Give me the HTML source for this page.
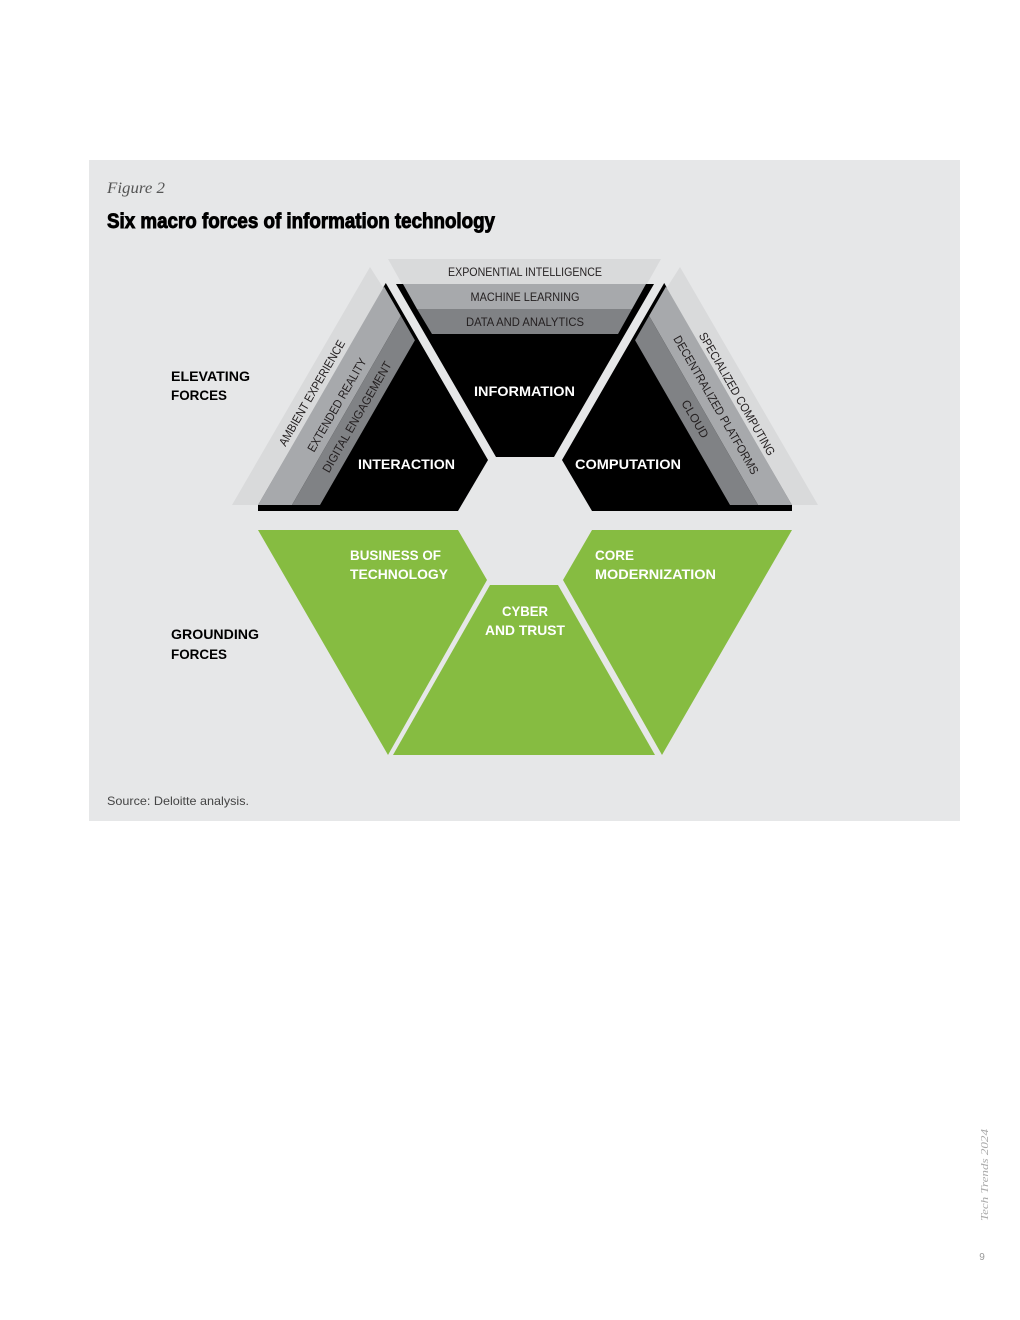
<!DOCTYPE html>
<html><head><meta charset="utf-8"><style>
html,body{margin:0;padding:0;background:#fff;}
svg{display:block;}
</style></head><body>
<svg width="1020" height="1320" viewBox="0 0 1020 1320" xmlns="http://www.w3.org/2000/svg">
<rect x="0" y="0" width="1020" height="1320" fill="#fff"/>
<rect x="89" y="160" width="871" height="661" fill="#e6e7e8"/>
<text x="107" y="193" font-family="Liberation Serif, serif" font-style="italic" font-size="16" fill="#555" textLength="58" lengthAdjust="spacingAndGlyphs">Figure 2</text>
<text x="107" y="228" font-family="Liberation Sans, sans-serif" font-weight="bold" font-size="21" fill="#000" stroke="#000" stroke-width="0.9" textLength="388" lengthAdjust="spacingAndGlyphs">Six macro forces of information technology</text>

<!-- INFORMATION -->
<polygon points="388,259 661,259 647,284 402,284" fill="#d9dadb"/>
<polygon points="396,284 654,284 554,457 496,457" fill="#000"/>
<polygon points="403,284 646,284 632,309 417,309" fill="#a7a9ac"/>
<polygon points="417,309 632,309 618,334 432,334" fill="#808285"/>

<!-- INTERACTION -->
<polygon points="385.8,283 488,460 458,511 258,511 258,505" fill="#000"/>
<polygon points="370,267 232,505 258,505 384,289" fill="#d9dadb"/>
<polygon points="384,286.5 258,505 292,505 400.9,315.9" fill="#a7a9ac"/>
<polygon points="400.9,315.9 292,505 320,505 414.9,340.2" fill="#808285"/>

<!-- COMPUTATION -->
<polygon points="664.2,283 562,460 592,511 792,511 792,505" fill="#000"/>
<polygon points="680,267 818,505 792,505 666,289" fill="#d9dadb"/>
<polygon points="666,286.5 792,505 758,505 649.1,315.9" fill="#a7a9ac"/>
<polygon points="649.1,315.9 758,505 730,505 635.1,340.2" fill="#808285"/>

<!-- GREEN -->
<polygon points="258,530 458,530 487,580 388,755" fill="#86bc41"/>
<polygon points="490,585 558,585 655,755 393,755" fill="#86bc41"/>
<polygon points="792,530 592,530 563,580 662,755" fill="#86bc41"/>

<g font-family="Liberation Sans, sans-serif" font-size="12" fill="#231f20" text-anchor="middle">
<text x="525" y="276" textLength="154" lengthAdjust="spacingAndGlyphs">EXPONENTIAL INTELLIGENCE</text>
<text x="525" y="301" textLength="109" lengthAdjust="spacingAndGlyphs">MACHINE LEARNING</text>
<text x="525" y="326" textLength="118" lengthAdjust="spacingAndGlyphs">DATA AND ANALYTICS</text>
<text transform="translate(312,393) rotate(-60)" x="0" y="4" textLength="120" lengthAdjust="spacingAndGlyphs">AMBIENT EXPERIENCE</text>
<text transform="translate(337,405) rotate(-60)" x="0" y="4" textLength="106" lengthAdjust="spacingAndGlyphs">EXTENDED REALITY</text>
<text transform="translate(357,417) rotate(-60)" x="0" y="4" textLength="126" lengthAdjust="spacingAndGlyphs">DIGITAL ENGAGEMENT</text>
<text transform="translate(737,394) rotate(60)" x="0" y="4" textLength="140" lengthAdjust="spacingAndGlyphs">SPECIALIZED COMPUTING</text>
<text transform="translate(716,405) rotate(60)" x="0" y="4" textLength="158" lengthAdjust="spacingAndGlyphs">DECENTRALIZED PLATFORMS</text>
<text transform="translate(695,419) rotate(60)" x="0" y="4" textLength="42" lengthAdjust="spacingAndGlyphs">CLOUD</text>
</g>

<g font-family="Liberation Sans, sans-serif" font-weight="bold" font-size="14" fill="#fff">
<text x="474" y="396" textLength="101" lengthAdjust="spacingAndGlyphs">INFORMATION</text>
<text x="358" y="469" textLength="97" lengthAdjust="spacingAndGlyphs">INTERACTION</text>
<text x="575" y="469" textLength="106" lengthAdjust="spacingAndGlyphs">COMPUTATION</text>
<text x="350" y="560" textLength="91" lengthAdjust="spacingAndGlyphs">BUSINESS OF</text>
<text x="350" y="579" textLength="98" lengthAdjust="spacingAndGlyphs">TECHNOLOGY</text>
<text x="595" y="560" textLength="39" lengthAdjust="spacingAndGlyphs">CORE</text>
<text x="595" y="579" textLength="121" lengthAdjust="spacingAndGlyphs">MODERNIZATION</text>
<text x="502" y="616" textLength="46" lengthAdjust="spacingAndGlyphs">CYBER</text>
<text x="485" y="635" textLength="80" lengthAdjust="spacingAndGlyphs">AND TRUST</text>
</g>

<g font-family="Liberation Sans, sans-serif" font-weight="bold" font-size="14" fill="#000">
<text x="171" y="381" textLength="79" lengthAdjust="spacingAndGlyphs">ELEVATING</text>
<text x="171" y="400" textLength="56" lengthAdjust="spacingAndGlyphs">FORCES</text>
<text x="171" y="639" textLength="88" lengthAdjust="spacingAndGlyphs">GROUNDING</text>
<text x="171" y="659" textLength="56" lengthAdjust="spacingAndGlyphs">FORCES</text>
</g>

<text x="107" y="805" font-family="Liberation Sans, sans-serif" font-size="12" fill="#444" textLength="142" lengthAdjust="spacingAndGlyphs">Source: Deloitte analysis.</text>

<text transform="translate(988,1175) rotate(-90)" x="0" y="0" text-anchor="middle" font-family="Liberation Serif, serif" font-style="italic" font-size="11" fill="#aaa" textLength="92" lengthAdjust="spacingAndGlyphs">Tech Trends 2024</text>
<text x="982" y="1260" text-anchor="middle" font-family="Liberation Sans, sans-serif" font-size="10" fill="#999">9</text>
</svg>
</body></html>
